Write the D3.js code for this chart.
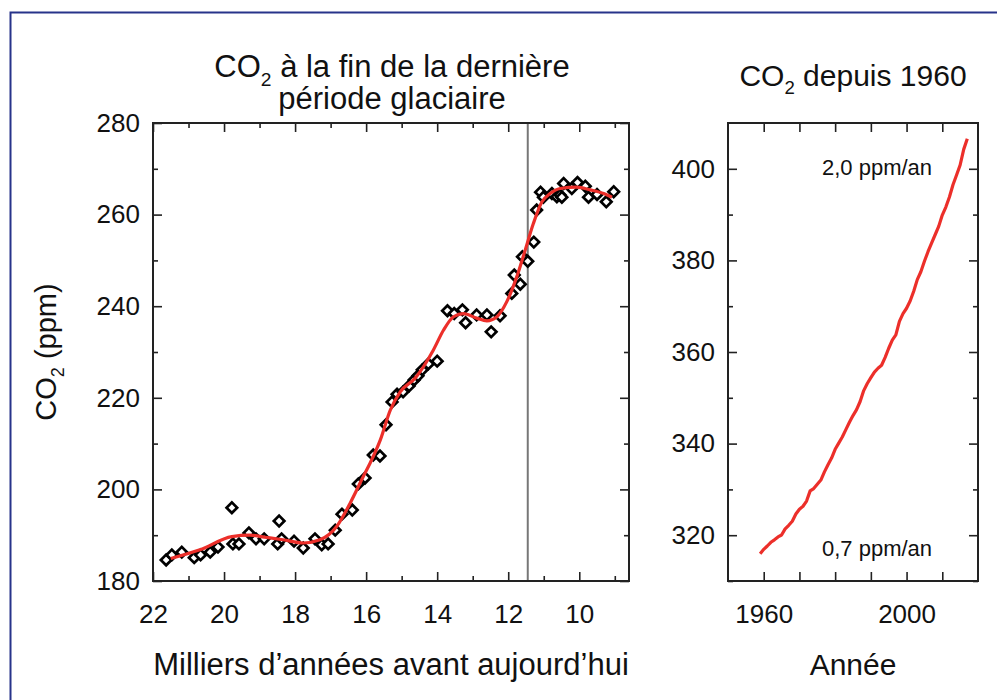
<!DOCTYPE html>
<html>
<head>
<meta charset="utf-8">
<script src="https://cdn.jsdelivr.net/npm/d3@7"></script>
<style>
  body { margin: 0; background: #fff; }
  svg { display: block; font-family: "Liberation Sans", Arial, sans-serif; }
</style>
</head>
<body>
<svg id="chart" width="997" height="700"></svg>
<script>
// ice core points (thousands of years before present, ppm)
var glacialKyr = [21.63, 21.47, 21.19, 20.84, 20.66, 20.39, 20.17, 19.78, 19.75, 19.58, 19.30, 19.10, 18.87,
  18.49, 18.45, 18.38, 18.03, 17.77, 17.44, 17.25, 17.07, 16.87, 16.68, 16.39, 16.22, 16.03, 15.80, 15.61,
  15.44, 15.27, 15.13, 14.96, 14.79, 14.65, 14.54, 14.42, 14.25, 14.00, 13.71, 13.52, 13.29, 13.20, 12.89,
  12.60, 12.48, 12.23, 11.90, 11.83, 11.66, 11.60, 11.45, 11.28, 11.20, 11.09, 11.01, 10.77, 10.63, 10.54,
  10.49, 10.44, 10.21, 10.05, 9.83, 9.74, 9.50, 9.24, 9.03];
var glacialPpm = [184.6, 185.7, 186.3, 185.1, 185.7, 186.3, 187.4, 196.0, 188.1, 188.1, 190.5, 189.2, 189.2,
  188.1, 193.1, 189.2, 188.7, 187.2, 189.2, 187.9, 188.1, 191.1, 194.6, 195.5, 201.2, 202.5, 207.5, 207.3,
  214.1, 219.1, 220.8, 221.3, 222.6, 223.9, 224.8, 226.1, 227.4, 228.0, 239.0, 238.4, 239.2, 236.4, 238.1,
  238.1, 234.4, 237.9, 242.8, 246.8, 244.8, 250.8, 249.8, 254.0, 261.0, 264.9, 263.8, 264.6, 263.9, 264.3,
  263.8, 266.8, 265.7, 267.0, 266.2, 263.8, 264.4, 262.8, 265.0];

// smoothed red curve
var fitKyr = [21.5, 20.68, 19.78, 19.27, 18.80, 18.34, 17.77, 17.30, 16.83, 16.45, 16.08, 15.89, 15.60,
  15.32, 15.04, 14.62, 14.11, 13.82, 13.54, 13.26, 12.89, 12.60, 12.32, 12.04, 11.76, 11.52, 11.29, 11.05,
  10.82, 10.54, 10.07, 9.69, 9.31, 9.08];
var fitPpm = [184.9, 186.8, 189.7, 190.0, 189.5, 189.0, 188.3, 189.0, 191.9, 197.0, 202.8, 205.7, 210.8,
  217.3, 221.3, 224.3, 230.4, 234.8, 237.7, 238.4, 237.4, 236.8, 237.7, 241.0, 246.4, 252.3, 258.1, 262.8,
  264.6, 265.7, 266.0, 265.4, 264.6, 263.8];

var youngerDryasEnd = 11.45;

// annual means since 1959
var modernYear = [1959, 1960, 1961, 1962, 1963, 1964, 1965, 1966, 1967, 1968, 1969, 1970, 1971, 1972, 1973,
  1974, 1975, 1976, 1977, 1978, 1979, 1980, 1981, 1982, 1983, 1984, 1985, 1986, 1987, 1988, 1989, 1990,
  1991, 1992, 1993, 1994, 1995, 1996, 1997, 1998, 1999, 2000, 2001, 2002, 2003, 2004, 2005, 2006, 2007,
  2008, 2009, 2010, 2011, 2012, 2013, 2014, 2015, 2016, 2017];
var modernPpm = [315.97, 316.91, 317.64, 318.45, 318.99, 319.62, 320.04, 321.38, 322.16, 323.04, 324.62,
  325.68, 326.32, 327.45, 329.68, 330.18, 331.11, 332.04, 333.83, 335.40, 336.84, 338.75, 340.11, 341.45,
  343.05, 344.65, 346.12, 347.42, 349.19, 351.57, 353.12, 354.39, 355.61, 356.45, 357.10, 358.83, 360.82,
  362.61, 363.73, 366.70, 368.38, 369.55, 371.14, 373.28, 375.80, 377.52, 379.80, 381.90, 383.79, 385.60,
  387.43, 389.90, 391.65, 393.85, 396.52, 398.65, 400.83, 404.24, 406.55];

// ticks
var leftXMajor = [22, 20, 18, 16, 14, 12, 10];
var leftXMinor = [21, 19, 17, 15, 13, 11, 9];
var leftYMajor = [180, 200, 220, 240, 260, 280];
var leftYMinor = [190, 210, 230, 250, 270];
var rightXTicks = [1960, 1970, 1980, 1990, 2000, 2010];
var rightXLabels = [1960, 2000];
var rightYMajor = [320, 340, 360, 380, 400];
var rightYMinor = [310, 330, 350, 370, 390];

var svg = d3.select("#chart");
var red = "#ec2f2a";
var ink = "#222";

// outer blue box
svg.append("rect")
  .attr("x", 10.5).attr("y", 12.5)
  .attr("width", 1100).attr("height", 800)
  .attr("fill", "none")
  .attr("stroke", "#27338a")
  .attr("stroke-width", 2);

/**
 * draw a framed panel: ticks inward on all four sides
 */
function frame(g, x, y, xMajor, xMinor, yMajor, yMinor, xLabels, yLabels) {
  var w = x.range()[1] - x.range()[0];
  var h = y.range()[0] - y.range()[1];

  var drawTicks = function (vals, len, labels) {
    // bottom + top
    g.append("g").attr("transform", "translate(0," + h + ")")
      .call(d3.axisBottom(x).tickValues(vals.x).tickSizeInner(-len.x).tickSizeOuter(0).tickPadding(24)
        .tickFormat(function (d) { return labels && xLabels.indexOf(d) >= 0 ? d : ""; }));
    g.append("g")
      .call(d3.axisTop(x).tickValues(vals.x).tickSizeInner(-len.x).tickSizeOuter(0).tickFormat(""));
    // left + right
    g.append("g")
      .call(d3.axisLeft(y).tickValues(vals.y).tickSizeInner(-len.y).tickSizeOuter(0).tickPadding(13)
        .tickFormat(function (d) { return labels && yLabels.indexOf(d) >= 0 ? d : ""; }));
    g.append("g").attr("transform", "translate(" + w + ",0)")
      .call(d3.axisRight(y).tickValues(vals.y).tickSizeInner(-len.y).tickSizeOuter(0).tickFormat(""));
  };

  drawTicks({x: xMajor, y: yMajor}, {x: 9, y: 9}, true);
  if (xMinor.length || yMinor.length) drawTicks({x: xMinor, y: yMinor}, {x: 5, y: 5}, false);

  g.selectAll(".domain").remove();
  g.selectAll(".tick line").attr("stroke", ink).attr("stroke-width", 1.6);
  g.selectAll(".tick text").attr("font-size", 26).attr("fill", "#111");

  g.append("rect")
    .attr("width", w).attr("height", h)
    .attr("fill", "none").attr("stroke", ink).attr("stroke-width", 2);
}

/**
 * CO2 text with a subscript 2
 */
function co2Text(sel, rest, size) {
  sel.append("tspan").text("CO");
  sel.append("tspan").attr("font-size", size * 0.62).attr("dy", size * 0.28).text("2");
  sel.append("tspan").attr("dy", -size * 0.28).text(rest);
}

// ---------- left panel ----------
var xL = d3.scaleLinear().domain([22, 8.6]).range([0, 476]);
var yL = d3.scaleLinear().domain([180, 280]).range([458, 0]);
var gL = svg.append("g").attr("transform", "translate(153,123)");

gL.append("line")
  .attr("x1", xL(youngerDryasEnd)).attr("x2", xL(youngerDryasEnd))
  .attr("y1", 0).attr("y2", yL(180))
  .attr("stroke", "#777").attr("stroke-width", 2);

frame(gL, xL, yL, leftXMajor, leftXMinor, leftYMajor, leftYMinor, leftXMajor, leftYMajor);

var diamond = d3.symbol().type(d3.symbolSquare).size(56);
gL.append("g").selectAll("path")
  .data(d3.range(glacialKyr.length))
  .enter().append("path")
  .attr("d", diamond)
  .attr("transform", function (i) { return "translate(" + xL(glacialKyr[i]) + "," + yL(glacialPpm[i]) + ") rotate(45)"; })
  .attr("fill", "#fff")
  .attr("stroke", "#000")
  .attr("stroke-width", 2.7);

var fitLine = d3.line()
  .x(function (i) { return xL(fitKyr[i]); })
  .y(function (i) { return yL(fitPpm[i]); })
  .curve(d3.curveMonotoneX);
gL.append("path")
  .attr("d", fitLine(d3.range(fitKyr.length)))
  .attr("fill", "none").attr("stroke", red).attr("stroke-width", 3.2);

// ---------- right panel ----------
var xR = d3.scaleLinear().domain([1950, 2020]).range([0, 250]);
var yR = d3.scaleLinear().domain([310, 410]).range([458, 0]);
var gR = svg.append("g").attr("transform", "translate(728,123)");

frame(gR, xR, yR, rightXTicks, [], rightYMajor, rightYMinor, rightXLabels, rightYMajor);

var modernLine = d3.line()
  .x(function (i) { return xR(modernYear[i]); })
  .y(function (i) { return yR(modernPpm[i]); });
gR.append("path")
  .attr("d", modernLine(d3.range(modernYear.length)))
  .attr("fill", "none").attr("stroke", red).attr("stroke-width", 3.2)
  .attr("stroke-linejoin", "round");

gR.append("text").attr("x", 94).attr("y", 52).attr("font-size", 22).attr("fill", "#111").text("2,0 ppm/an");
gR.append("text").attr("x", 94).attr("y", 433).attr("font-size", 22).attr("fill", "#111").text("0,7 ppm/an");

// ---------- titles and axis labels ----------
var t1 = svg.append("text").attr("x", 392).attr("y", 77).attr("text-anchor", "middle").attr("font-size", 31).attr("fill", "#111");
co2Text(t1, " à la fin de la dernière", 31);
svg.append("text").attr("x", 392).attr("y", 109).attr("text-anchor", "middle").attr("font-size", 31).attr("fill", "#111")
  .text("période glaciaire");

var t2 = svg.append("text").attr("x", 853).attr("y", 86).attr("text-anchor", "middle").attr("font-size", 30).attr("fill", "#111");
co2Text(t2, " depuis 1960", 30);

svg.append("text").attr("x", 391).attr("y", 675).attr("text-anchor", "middle").attr("font-size", 31).attr("fill", "#111")
  .text("Milliers d\u2019années avant aujourd\u2019hui");
svg.append("text").attr("x", 853).attr("y", 675).attr("text-anchor", "middle").attr("font-size", 30).attr("fill", "#111")
  .text("Année");

var yt = svg.append("text").attr("transform", "translate(56,352) rotate(-90)")
  .attr("text-anchor", "middle").attr("font-size", 29).attr("fill", "#111");
co2Text(yt, " (ppm)", 29);
</script>
</body>
</html>
